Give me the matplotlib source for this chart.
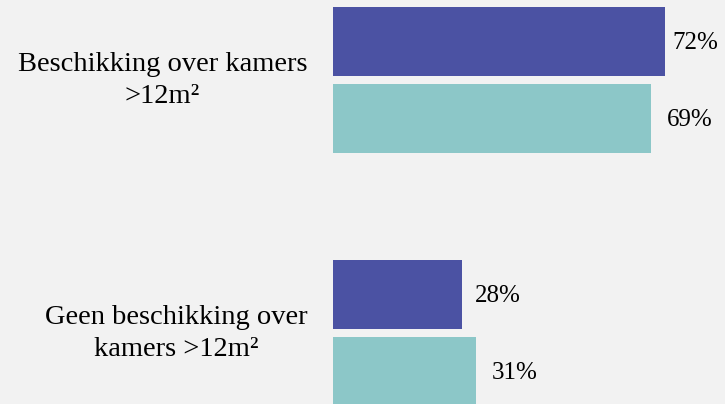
import numpy as np
import matplotlib
matplotlib.use("Agg")
import matplotlib.pyplot as plt

# data
categories = ["Beschikking over kamers\n>12m²", "Geen beschikking over\nkamers >12m²"]
serie_a = [72, 28]
serie_b = [69, 31]

kleur_a = "#4b52a3"
kleur_b = "#8cc7c8"
achtergrond = "#f2f2f2"

plt.rcParams['font.family'] = ['Liberation Serif', 'DejaVu Serif']

fig = plt.figure(figsize=(7.25, 4.04), dpi=100, facecolor=achtergrond)
ax = fig.add_axes([0, 0, 1, 1])
ax.set_facecolor(achtergrond)

y = np.arange(len(categories))
h = 0.273
off = 0.152

ax.barh(y - off, serie_a, height=h, color=kleur_a)
ax.barh(y + off, serie_b, height=h, color=kleur_b)

# waarde-labels
for i in range(len(categories)):
    ax.text(min(serie_a[i] + 2.8, 73.5), y[i] - off + 0.006, "{}%".format(serie_a[i]),
            va="center", ha="left", fontsize=18)
    ax.text(min(serie_b[i] + 3.4, 73.5), y[i] + off + 0.006, "{}%".format(serie_b[i]),
            va="center", ha="left", fontsize=18)

# categorie-labels
for i, cat in enumerate(categories):
    ax.text(-5.6, y[i] + 0.003, cat, ha="right", va="center",
            multialignment="center", fontsize=20.5, linespacing=1.38)

ax.set_xlim(-72.2, 85.0)
ax.set_ylim(1.281, -0.316)
ax.axis("off")

plt.savefig("out.png", dpi=100, facecolor=achtergrond)
